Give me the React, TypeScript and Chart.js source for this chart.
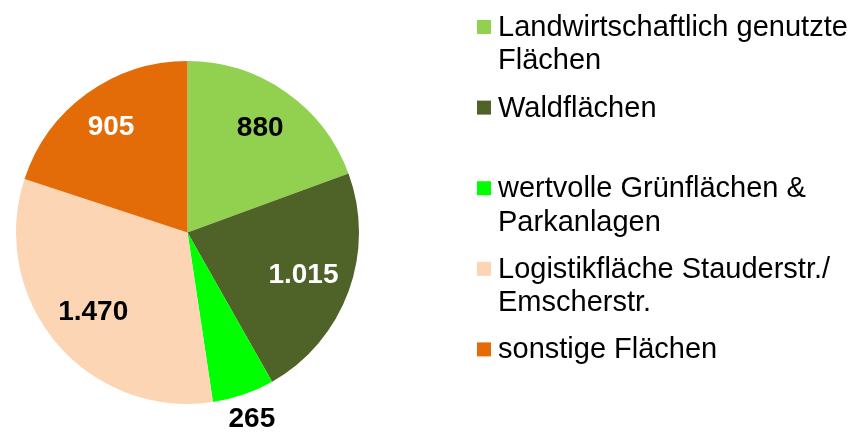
import React, { useEffect, useRef } from "react";
import { Chart, registerables } from "chart.js";

Chart.register(...registerables);

const categories = [
  "Landwirtschaftlich genutzte Flächen",
  "Waldflächen",
  "wertvolle Grünflächen & Parkanlagen",
  "Logistikfläche Stauderstr./ Emscherstr.",
  "sonstige Flächen",
];
const legendLines = [
  ["Landwirtschaftlich genutzte", "Flächen"],
  ["Waldflächen"],
  ["wertvolle Grünflächen &", "Parkanlagen"],
  ["Logistikfläche Stauderstr./", "Emscherstr."],
  ["sonstige Flächen"],
];
const values = [880, 1015, 265, 1470, 905];
const colors = ["#92D050", "#4F6228", "#00FF00", "#FCD5B5", "#E36C09"];
const labelColors = ["#000000", "#FFFFFF", "#000000", "#000000", "#FFFFFF"];
const labelRadius = [0.74, 0.72, 1.15, 0.72, 0.76];

const FONT = '"Liberation Sans", Arial, Helvetica, sans-serif';

function fmt(v: number): string {
  return String(v).replace(/\B(?=(\d{3})+(?!\d))/g, ".");
}

const dataLabelPlugin = {
  id: "dataLabels",
  afterDatasetsDraw(chart: any) {
    const ctx = chart.ctx;
    const meta = chart.getDatasetMeta(0);
    ctx.save();
    ctx.font = `bold 28px ${FONT}`;
    ctx.textAlign = "center";
    ctx.textBaseline = "middle";
    meta.data.forEach((arc: any, i: number) => {
      const p = arc.getProps(["x", "y", "startAngle", "endAngle", "outerRadius"], true);
      const mid = (p.startAngle + p.endAngle) / 2;
      const r = p.outerRadius * labelRadius[i];
      ctx.fillStyle = labelColors[i];
      ctx.fillText(fmt(values[i]), p.x + Math.cos(mid) * r, p.y + Math.sin(mid) * r);
    });
    ctx.restore();
  },
};

const legendPlugin = {
  id: "customLegend",
  afterDraw(chart: any) {
    const ctx = chart.ctx;
    ctx.save();
    ctx.font = `29px ${FONT}`;
    ctx.textAlign = "left";
    ctx.textBaseline = "alphabetic";
    const boxX = 477;
    const textX = 498;
    const firstBase = 36;
    const slot = 80.6;
    const lineH = 33.4;
    legendLines.forEach((lines, i) => {
      const base = firstBase + slot * i;
      ctx.fillStyle = colors[i];
      ctx.fillRect(boxX, base - 16, 14, 14);
      ctx.fillStyle = "#000000";
      lines.forEach((ln, j) => ctx.fillText(ln, textX, base + j * lineH));
    });
    ctx.restore();
  },
};

export default function App() {
  const ref = useRef<HTMLCanvasElement | null>(null);
  useEffect(() => {
    if (!ref.current) return;
    const chart = new Chart(ref.current, {
      type: "pie",
      data: {
        labels: categories,
        datasets: [
          {
            data: values,
            backgroundColor: colors,
            borderWidth: 0,
          },
        ],
      },
      options: {
        responsive: false,
        animation: false,
        devicePixelRatio: 1,
        layout: { padding: { left: 16, right: 496, top: 61, bottom: 29 } },
        plugins: {
          legend: { display: false },
          tooltip: { enabled: false },
        },
      },
      plugins: [dataLabelPlugin, legendPlugin],
    });
    return () => chart.destroy();
  }, []);
  return (
    <div style={{ position: "absolute", left: 0, top: 0, width: 855, height: 433, background: "#fff" }}>
      <canvas ref={ref} width={855} height={433} style={{ width: 855, height: 433 }} />
    </div>
  );
}
